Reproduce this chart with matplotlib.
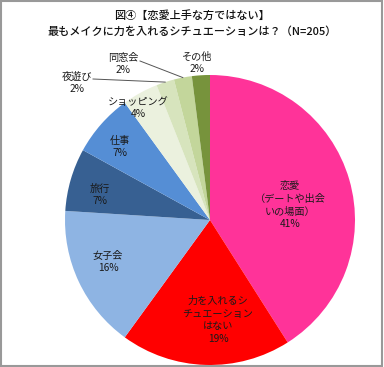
import matplotlib
matplotlib.use("Agg")
import matplotlib.pyplot as plt
import numpy as np
from matplotlib.patches import Rectangle

plt.rcParams['font.family'] = ['Noto Sans CJK JP', 'DejaVu Sans']

categories = ["恋愛\n（デートや出会\nいの場面）", "力を入れるシ\nチュエーション\nはない", "女子会", "旅行", "仕事",
              "ショッピング", "夜遊び", "同窓会", "その他"]
values = [41, 19, 16, 7, 7, 4, 2, 2, 2]
colors = ["#FF3399", "#FF0000", "#8EB4E3", "#376092", "#558ED5",
          "#EBF1DE", "#D7E4BD", "#C3D69B", "#77933C"]
title_lines = ["図④【恋愛上手な方ではない】", "最もメイクに力を入れるシチュエーションは？（N=205）"]

W, H = 384, 367
fig = plt.figure(figsize=(W / 100, H / 100), dpi=100)
ax = fig.add_axes([0, 0, 1, 1])

cx, cy, R = 210, H - 220, 145
wedges, _ = ax.pie(values, colors=colors, startangle=90, counterclock=False,
                   center=(cx, cy), radius=R, frame=True,
                   wedgeprops=dict(linewidth=0))
ax.set_xlim(0, W)
ax.set_ylim(0, H)
ax.set_aspect("equal")
ax.axis("off")

# label positions in pixel coords (x, y from top)
label_pos = [(290, 205), (218, 320), (108, 262), (100, 195), (120, 147),
             (138, 108), (77, 83), (123, 64), (197, 63)]
for cat, v, (x, y) in zip(categories, values, label_pos):
    ax.text(x, H - y, f"{cat}\n{v}%", ha="center", va="center", fontsize=7.3,
            color="#1a1a1a", linespacing=1.35)

# leader lines for small slices
def edge_point(w):
    th = np.deg2rad((w.theta1 + w.theta2) / 2)
    return cx + R * np.cos(th), cy + R * np.sin(th)

for idx, start in [(6, (93, 79)), (7, (140, 61))]:
    ex, ey = edge_point(wedges[idx])
    ax.plot([start[0], ex], [H - start[1], ey], color="#555555", lw=0.7)

fig.text(0.5, 1 - 15 / H, title_lines[0], ha="center", va="center",
         fontsize=8.0, fontweight="medium", color="#111111")
fig.text(0.5, 1 - 32 / H, title_lines[1], ha="center", va="center",
         fontsize=8.0, fontweight="medium", color="#111111")

fig.patches.append(Rectangle((0.002, 0.002), 0.994, 0.994, transform=fig.transFigure,
                             fill=False, edgecolor="#999999", lw=1.5))

fig.savefig("out.png", dpi=100)
